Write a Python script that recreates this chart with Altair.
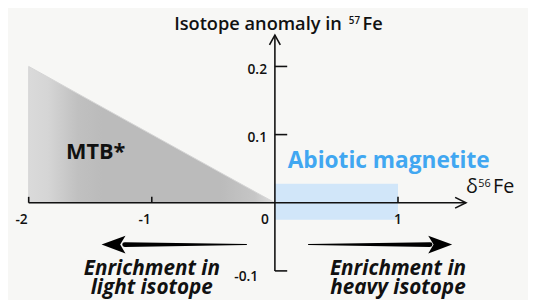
import altair as alt
import pandas as pd

# ---------------- data ----------------
x_tick_values = [-2, -1, 1]
x_label_values = [-2, -1, 0, 1]
x_label_texts = ["-2", "-1", "0", "1"]
y_tick_values = [0.2, 0.1, -0.1]
y_label_texts = ["0.2", "0.1", "-0.1"]

mtb_x = [-2, 0]          # MTB* wedge: delta56Fe
mtb_y = [0.2, 0.0]       # MTB* wedge: 57Fe anomaly
abiotic_x = [0, 1]       # abiotic magnetite delta56Fe range
abiotic_y = [-0.025, 0.028]  # abiotic magnetite 57Fe anomaly range

x_axis_span = [-2, 1.552]
y_axis_span = [-0.1, 0.246]

# annotation anchors (data units)
left_arrow_u = [-0.23, -1.22, -1.408]    # shaft start, shaft end, tip
right_arrow_u = [0.272, 1.26, 1.44]
arrow_v = -0.0614

# ---------------- layout ----------------
W, H = 528, 292
PX0, PY0 = 279.0, 203.5
SX, SY = 125.0, 692.0
xdom = [(8 - PX0) / SX, (8 + W - PX0) / SX]
ydom = [(PY0 - 8 - H) / SY, (PY0 - 8) / SY]
xs = alt.Scale(domain=xdom, nice=False, zero=False)
ys = alt.Scale(domain=ydom, nice=False, zero=False)
FONT = "Open Sans"
INK = "#111111"
BG = "#f7f7f5"


def X(f):
    return alt.X(f"{f}:Q", scale=xs, axis=None)


def Y(f):
    return alt.Y(f"{f}:Q", scale=ys, axis=None)


def X2(f):
    return alt.X2(f"{f}:Q")


def Y2(f):
    return alt.Y2(f"{f}:Q")


# MTB wedge
tri_df = pd.DataFrame({"u": mtb_x, "v": mtb_y, "v0": [0, 0]})
tri = alt.Chart(tri_df).mark_area(
    color=alt.Gradient(
        gradient="linear", x1=0, x2=1, y1=0, y2=0,
        stops=[
            alt.GradientStop(color="#dadada", offset=0),
            alt.GradientStop(color="#d5d5d5", offset=0.08),
            alt.GradientStop(color="#c0c0c0", offset=0.2),
            alt.GradientStop(color="#bbbbbb", offset=0.3),
            alt.GradientStop(color="#bbbbbb", offset=0.78),
            alt.GradientStop(color="#c6c6c6", offset=0.92),
            alt.GradientStop(color="#dedede", offset=1),
        ],
    ),
    stroke="#d4d4d4", strokeWidth=1, strokeJoin="round",
).encode(x=X("u"), y=Y("v"), y2=Y2("v0"))

# abiotic box
box_df = pd.DataFrame({"u0": [abiotic_x[0]], "u1": [abiotic_x[1]],
                       "v0": [abiotic_y[0]], "v1": [abiotic_y[1]]})
box = alt.Chart(box_df).mark_rect(color="#d1e6f9").encode(
    x=X("u0"), x2=X2("u1"), y=Y("v0"), y2=Y2("v1"))

# axes
xax_df = pd.DataFrame({"u0": [x_axis_span[0]], "u1": [x_axis_span[1]], "v": [0.0]})
xax = alt.Chart(xax_df).mark_rule(color=INK, strokeWidth=1.6).encode(
    x=X("u0"), x2=X2("u1"), y=Y("v"))
yax_df = pd.DataFrame({"u": [0.0], "v0": [y_axis_span[0]], "v1": [y_axis_span[1]]})
yax = alt.Chart(yax_df).mark_rule(color=INK, strokeWidth=1.6).encode(
    x=X("u"), y=Y("v0"), y2=Y2("v1"))

xt_df = pd.DataFrame({"u": x_tick_values, "v0": 0.0, "v1": 6 / SY})
xticks = alt.Chart(xt_df).mark_rule(color=INK, strokeWidth=1.6).encode(
    x=X("u"), y=Y("v0"), y2=Y2("v1"))
yt_df = pd.DataFrame({"v": y_tick_values, "u0": 0.0, "u1": 12.5 / SX})
yticks = alt.Chart(yt_df).mark_rule(color=INK, strokeWidth=1.6).encode(
    x=X("u0"), x2=X2("u1"), y=Y("v"))

xhead = alt.Chart(pd.DataFrame({"u": [x_axis_span[1]], "v": [0.0]})).mark_point(
    shape="M-2,-1L0,0L-2,1", filled=False, size=121, color=INK,
    strokeWidth=1.6, opacity=1).encode(x=X("u"), y=Y("v"))
yhead = alt.Chart(pd.DataFrame({"u": [0.0], "v": [y_axis_span[1]]})).mark_point(
    shape="M-1,1.8L0,0L1,1.8", filled=False, size=121, color=INK,
    strokeWidth=1.6, opacity=1).encode(x=X("u"), y=Y("v"))

# tick labels
xl_df = pd.DataFrame({"u": x_label_values, "v": 0.0, "t": x_label_texts})


def xlab(sel, align, dx):
    return alt.Chart(xl_df[xl_df.t.isin(sel)]).mark_text(
        font=FONT, fontSize=14, fontWeight=600, color=INK, align=align,
        baseline="alphabetic", dx=dx, dy=22).encode(x=X("u"), y=Y("v"), text="t:N")


xlabels = [xlab(["-2", "-1"], "right", -1), xlab(["0"], "right", -6),
           xlab(["1"], "center", 0)]

yl_df = pd.DataFrame({"v": y_tick_values, "u": 0.0, "t": y_label_texts})


def ylab(sel, dx, dy):
    return alt.Chart(yl_df[yl_df.t.isin(sel)]).mark_text(
        font=FONT, fontSize=14, fontWeight=600, color=INK, align="right",
        baseline="alphabetic", dx=dx, dy=dy).encode(x=X("u"), y=Y("v"), text="t:N")


ylabels = [ylab(["0.2", "0.1"], -8, 8), ylab(["-0.1"], -17, 10)]


def txt(u, v, t, **kw):
    df = pd.DataFrame({"u": [u], "v": [v], "t": [t]})
    kw.setdefault("font", FONT)
    kw.setdefault("color", INK)
    kw.setdefault("baseline", "alphabetic")
    return alt.Chart(df).mark_text(**kw).encode(x=X("u"), y=Y("v"), text="t:N")


texts = [
    txt(0.544, 0.2536, "Isotope anomaly in", fontSize=18.5, fontWeight=600, align="right"),
    txt(0.60, 0.2623, "57", fontSize=10, fontWeight=600, align="left"),
    txt(0.712, 0.2536, "Fe", fontSize=18.5, fontWeight=600, align="left"),
    txt(-1.696, 0.0643, "MTB*", fontSize=22, fontWeight="bold", align="left"),
    txt(0.104, 0.0513, "Abiotic magnetite", fontSize=23, fontWeight="bold",
        align="left", color="#41a7f1"),
    txt(1.648, 0.0137, "δ", fontSize=20, fontWeight=500, align="right"),
    txt(1.752, 0.0224, "56", fontSize=11, fontWeight=500, align="right"),
    txt(1.944, 0.0137, "Fe", fontSize=20, fontWeight=500, align="right"),
    txt(-1.0, -0.1062, "Enrichment in", fontSize=21, fontWeight="bold",
        fontStyle="italic", align="center"),
    txt(-1.0, -0.1342, "light isotope", fontSize=21, fontWeight="bold",
        fontStyle="italic", align="center"),
    txt(1.0, -0.1062, "Enrichment in", fontSize=21, fontWeight="bold",
        fontStyle="italic", align="center"),
    txt(1.0, -0.1342, "heavy isotope", fontSize=21, fontWeight="bold",
        fontStyle="italic", align="center"),
]

# direction arrows
shaft_df = pd.DataFrame({
    "g": ["l", "l", "r", "r"],
    "u": [left_arrow_u[0], left_arrow_u[1], right_arrow_u[0], right_arrow_u[1]],
    "v": [arrow_v] * 4,
    "w": [1.0, 5.0, 1.0, 5.0],
})
shafts = alt.Chart(shaft_df).mark_trail(color="#000000").encode(
    x=X("u"), y=Y("v"), size=alt.Size("w:Q", scale=None, legend=None),
    detail="g:N")
lhead = alt.Chart(pd.DataFrame({"u": [left_arrow_u[2]], "v": [arrow_v]})).mark_point(
    shape="M0,0L2.7,-1L2.1,0L2.7,1Z", filled=True, size=324, color="#000000",
    opacity=1).encode(x=X("u"), y=Y("v"))
rhead = alt.Chart(pd.DataFrame({"u": [right_arrow_u[2]], "v": [arrow_v]})).mark_point(
    shape="M0,0L-2.7,-1L-2.1,0L-2.7,1Z", filled=True, size=324, color="#000000",
    opacity=1).encode(x=X("u"), y=Y("v"))

chart = alt.layer(
    tri, box, xax, yax, xticks, yticks, xhead, yhead,
    *xlabels, *ylabels, *texts, shafts, lhead, rhead,
).properties(
    width=W, height=H, padding=0,
    autosize=alt.AutoSizeParams(type="none"),
    background=BG,
).configure_view(stroke=None)

chart.save("out.html", embed_options={"renderer": "svg", "actions": False})
